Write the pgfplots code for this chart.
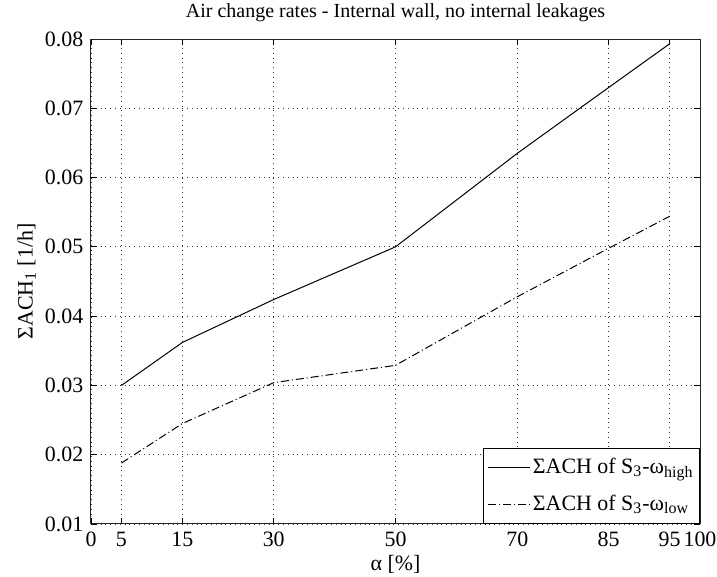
\documentclass[border=0pt,11pt]{standalone}
\usepackage{fontspec}
\setmainfont{Liberation Serif}
\usepackage{pgfplots}
\pgfplotsset{compat=1.18}
\begin{document}
\begin{tikzpicture}
\begin{axis}[
  name=ax,
  scale only axis,
  width=304.5pt, height=242.5pt,
  xmin=0, xmax=100, ymin=0.01, ymax=0.08,
  xtick={0,5,15,30,50,70,85,95,100},
  ytick={0.01,0.02,0.03,0.04,0.05,0.06,0.07,0.08},
  scaled y ticks=false,
  yticklabel style={/pgf/number format/fixed,/pgf/number format/precision=2,/pgf/number format/fixed zerofill},
  /pgf/number format/assume math mode=true,
  tick align=inside,
  tick pos=both,
  ticklabel pos=left,
  major tick length=3pt,
  tick style={black, line width=0.4pt},
  xmajorgrids, ymajorgrids,
  grid style={dotted, black!80, line width=0.4pt},
  axis line style={black!85, line width=0.5pt},
  xlabel={α [\%]},
  ylabel={ΣACH\textsubscript{1} [1/h]},
  xlabel style={yshift=3pt},
  ylabel style={yshift=-3pt},
  legend style={at={(1,0)}, anchor=south east, draw=black, line width=0.5pt, fill=white,
    font=\normalsize, row sep=7pt, inner xsep=2pt, inner ysep=4pt,
    nodes={inner sep=1pt}},
  legend cell align=left,
  legend image code/.code={\draw[#1] (0pt,0pt) -- (21pt,0pt);},
]
\addplot[black, line width=0.5pt] coordinates {
  (5,0.0300) (15,0.0362) (30,0.0424) (50,0.0500) (70,0.0635) (85,0.0730) (95,0.0793)
};
\addlegendentry{ΣACH of S\textsubscript{3}-ω\textsubscript{high}}
\addplot[black, line width=0.5pt, dash pattern=on 4pt off 1.5pt on 0.5pt off 1.5pt] coordinates {
  (5,0.0188) (15,0.0245) (30,0.0304) (50,0.0329) (70,0.0428) (85,0.0498) (95,0.0544)
};
\addlegendentry{ΣACH of S\textsubscript{3}-ω\textsubscript{low}}
\end{axis}
\node[anchor=base, inner sep=0pt, font=\fontsize{10}{12}\selectfont] at ([yshift=11pt]ax.north) {Air change rates - Internal wall, no internal leakages};
\path (ax.south west) ++(-45.5pt,-26.5pt) coordinate (bl);
\path (ax.north east) ++(8.5pt,19.5pt) coordinate (tr);
\pgfresetboundingbox
\path[use as bounding box] (bl) rectangle (tr);
\end{tikzpicture}
\end{document}
